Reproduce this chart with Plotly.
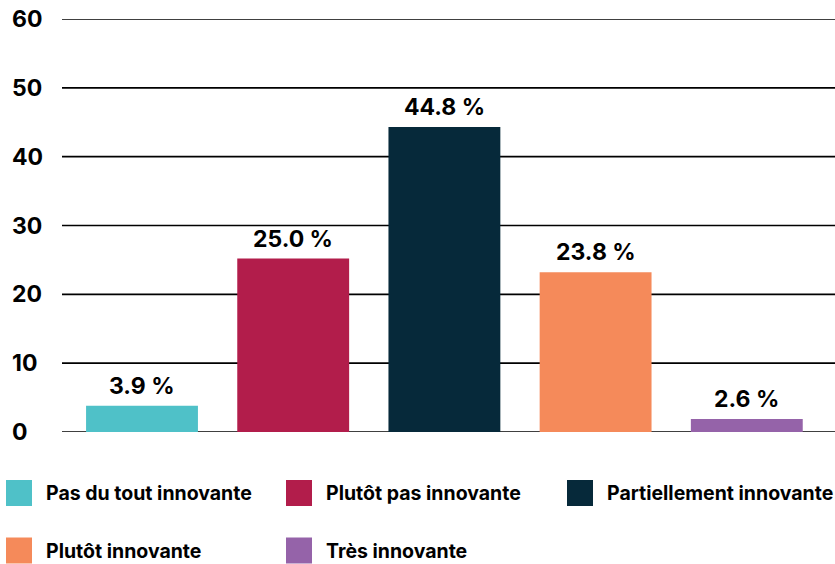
import plotly.graph_objects as go

categories = ["Pas du tout innovante", "Plutôt pas innovante", "Partiellement innovante",
              "Plutôt innovante", "Très innovante"]
bar_heights = [3.8, 25.2, 44.3, 23.2, 1.9]
value_labels = ["3.9 %", "25.0 %", "44.8 %", "23.8 %", "2.6 %"]
colors = ["#4fc1c8", "#b21d4b", "#06293a", "#f58a5a", "#9563a9"]
y_ticks = [0, 10, 20, 30, 40, 50, 60]
tick_labels = ["0", "10", "20", "30", "40", "50", "60"]

W, H = 835, 564
L, R, T, B = 62, 0, 19, 132
FONT = "Inter"

def px_x(px):
    return (px - L) / (W - L - R)

def px_y(py):
    return (H - B - py) / (H - T - B)

fig = go.Figure()
positions = list(range(len(categories)))
for i, (cat, h, c) in enumerate(zip(categories, bar_heights, colors)):
    fig.add_trace(go.Bar(x=[positions[i]], y=[h], name=cat, marker=dict(color=c, line=dict(width=0)),
                         width=0.74, showlegend=False, hoverinfo="skip"))

annotations = []
for i, (h, lab) in enumerate(zip(bar_heights, value_labels)):
    annotations.append(dict(x=positions[i], y=h, xref="x", yref="y", text=lab, showarrow=False,
                            yanchor="bottom", xanchor="center", yshift=4,
                            font=dict(family=FONT, size=23, color="#000000", weight="bold")))
for v, t in zip(y_ticks, tick_labels):
    annotations.append(dict(x=px_x(10), y=v, xref="paper", yref="y", text=t, showarrow=False,
                            xanchor="left", yanchor="middle",
                            font=dict(family=FONT, size=23, color="#000000", weight="bold")))

# manual legend
legend_slots = [(6, 493), (286, 493), (567, 493), (6, 550.5), (286, 550.5)]
shapes = []
for (sx, sy), cat, c in zip(legend_slots, categories, colors):
    shapes.append(dict(type="rect", xref="paper", yref="paper",
                       x0=px_x(sx), x1=px_x(sx + 26), y0=px_y(sy + 13), y1=px_y(sy - 13),
                       fillcolor=c, line=dict(width=0)))
    annotations.append(dict(x=px_x(sx + 38), y=px_y(sy), xref="paper", yref="paper", text=cat,
                            showarrow=False, xanchor="left", yanchor="middle",
                            font=dict(family=FONT, size=19.5, color="#000000", weight="bold")))

# horizontal grid lines at tick values
for v in y_ticks:
    shapes.append(dict(type="line", xref="paper", yref="y", x0=0, x1=1, y0=v, y1=v,
                       line=dict(color="#000000", width=1.6), layer="below"))

fig.update_layout(
    width=W, height=H,
    margin=dict(l=L, r=R, t=T, b=B),
    paper_bgcolor="white", plot_bgcolor="white",
    barmode="overlay",
    xaxis=dict(range=[(L - 142) / 151.2, (W - 142) / 151.2], showticklabels=False, showgrid=False,
               zeroline=False, showline=False, ticks=""),
    yaxis=dict(range=[0, 60], tickvals=y_ticks, showticklabels=False, showgrid=False,
               zeroline=False, showline=False, ticks=""),
    annotations=annotations, shapes=shapes,
    showlegend=False,
)

fig.write_html("out.html", config={"displayModeBar": False},
               post_script="document.body.style.margin='0px';document.body.style.padding='0px';")
